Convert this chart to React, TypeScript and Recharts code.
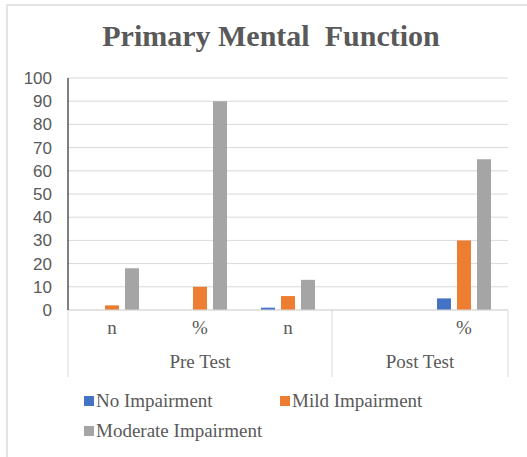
import { BarChart, Bar, XAxis, YAxis, CartesianGrid, Legend } from 'recharts';

const labels = ['n', '%', 'n', '', '%'];
const groups = ['Pre Test', 'Pre Test', 'Pre Test', 'Post Test', 'Post Test'];
const noImpairment = [0, 0, 1, null, 5];
const mildImpairment = [2, 10, 6, null, 30];
const moderateImpairment = [18, 90, 13, null, 65];
const yTicks = [0, 10, 20, 30, 40, 50, 60, 70, 80, 90, 100];

const SERIES = [
  { key: 'none', name: 'No Impairment', color: '#4472C4' },
  { key: 'mild', name: 'Mild Impairment', color: '#ED7D31' },
  { key: 'moderate', name: 'Moderate Impairment', color: '#A5A5A5' },
];

const data = labels.map((label, i) => ({
  label,
  group: groups[i],
  none: noImpairment[i],
  mild: mildImpairment[i],
  moderate: moderateImpairment[i],
}));

const SERIF = 'Liberation Serif, Times New Roman, serif';
const TEXT = '#595959';
const HALF_BAND = 44;

function CategoryTick(props: any) {
  const { x, y, payload } = props;
  const i = payload.index;
  const sep = (sx: number) => (
    <line x1={sx} x2={sx} y1={y} y2={y + 67} stroke="#d9d9d9" strokeWidth={1} />
  );
  return (
    <g>
      <text x={x} y={y + 24} textAnchor="middle" fontFamily={SERIF} fontSize={19} fill={TEXT}>
        {payload.value}
      </text>
      {i === 1 && (
        <text x={x} y={y + 58} textAnchor="middle" fontFamily={SERIF} fontSize={19} fill={TEXT}>
          Pre Test
        </text>
      )}
      {i === 4 && (
        <text x={x - HALF_BAND} y={y + 58} textAnchor="middle" fontFamily={SERIF} fontSize={19} fill={TEXT}>
          Post Test
        </text>
      )}
      {i === 0 && sep(x - HALF_BAND)}
      {i === 3 && sep(x - HALF_BAND)}
      {i === 4 && sep(x + HALF_BAND)}
    </g>
  );
}

function LegendItem({ name, color }: { name: string; color: string }) {
  return (
    <div style={{ display: 'flex', alignItems: 'center', width: 196 }}>
      <span style={{ width: 10, height: 10, background: color, marginRight: 2 }} />
      <span>{name}</span>
    </div>
  );
}

function LegendBox() {
  return (
    <div style={{ fontFamily: SERIF, fontSize: 19, color: TEXT, lineHeight: '30px' }}>
      <div style={{ display: 'flex' }}>
        <LegendItem name={SERIES[0].name} color={SERIES[0].color} />
        <LegendItem name={SERIES[1].name} color={SERIES[1].color} />
      </div>
      <div style={{ display: 'flex' }}>
        <LegendItem name={SERIES[2].name} color={SERIES[2].color} />
      </div>
    </div>
  );
}

export default function App() {
  return (
    <div style={{ position: 'absolute', left: 0, top: 0, width: 527, height: 457, background: '#fff' }}>
      <div
        style={{
          position: 'absolute',
          left: 6,
          top: 4,
          right: 0,
          bottom: 0,
          borderTop: '2px solid #e3e3e3',
          borderLeft: '2px solid #e3e3e3',
        }}
      />
      <div
        style={{
          position: 'absolute',
          left: 0,
          top: 18,
          width: 542,
          textAlign: 'center',
          fontFamily: SERIF,
          fontWeight: 'bold',
          fontSize: 30,
          lineHeight: '36px',
          color: TEXT,
        }}
      >
        Primary Mental&nbsp; Function
      </div>
      <div style={{ position: 'absolute', left: 0, top: 0 }}>
        <BarChart
          width={527}
          height={457}
          data={data}
          margin={{ top: 78, right: 19, left: 8, bottom: 0 }}
          barSize={14}
          barGap={6}
        >
          <CartesianGrid vertical={false} stroke="#d9d9d9" />
          <XAxis
            dataKey="label"
            height={147}
            interval={0}
            tickLine={false}
            tickSize={0}
            tickMargin={0}
            axisLine={{ stroke: '#d9d9d9' }}
            tick={<CategoryTick />}
          />
          <XAxis xAxisId="top" dataKey="label" orientation="top" height={0} tick={false} tickLine={false} axisLine={{ stroke: '#000' }} />
          <YAxis
            domain={[0, 100]}
            ticks={yTicks}
            interval={0}
            width={60}
            tickLine={false}
            axisLine={{ stroke: '#000' }}
            tick={{ fontFamily: 'Liberation Sans, Arial, sans-serif', fontSize: 17, fill: TEXT }}
            tickMargin={10}
          />
          <YAxis yAxisId="right" orientation="right" domain={[0, 100]} width={0} tick={false} tickLine={false} axisLine={{ stroke: '#000' }} />
          {SERIES.map((s) => (
            <Bar key={s.key} dataKey={s.key} name={s.name} fill={s.color} isAnimationActive={false} />
          ))}
          <Legend
            layout="horizontal"
            verticalAlign="middle"
            align="center"
            wrapperStyle={{ position: 'absolute', top: 386, left: 84, width: 420, height: 60 }}
            content={() => <LegendBox />}
          />
        </BarChart>
      </div>
    </div>
  );
}
